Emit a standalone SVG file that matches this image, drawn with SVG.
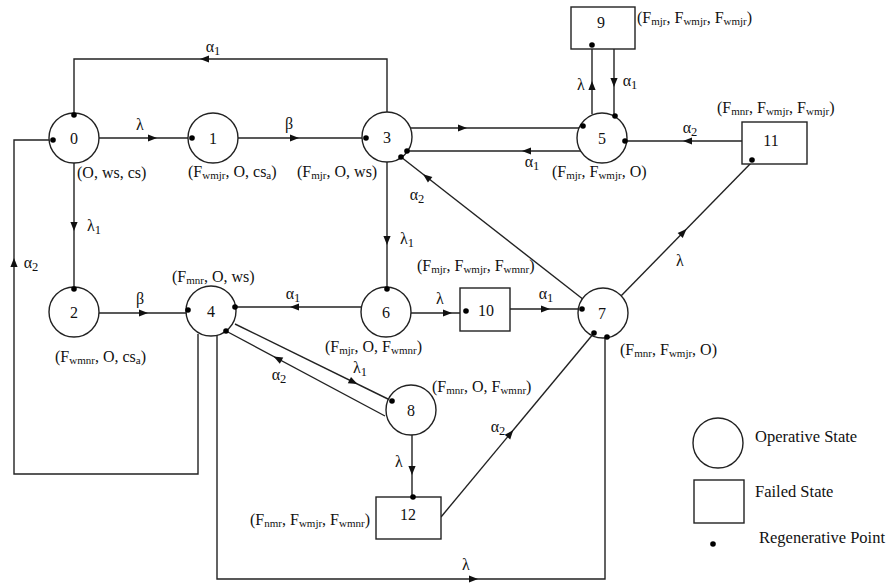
<svg xmlns="http://www.w3.org/2000/svg" xmlns:xlink="http://www.w3.org/1999/xlink" width="889" height="587" viewBox="0 0 889 587">
<style>
.nd{fill:#fff;stroke:#222;stroke-width:1.4}
.ln{fill:none;stroke:#222;stroke-width:1.4}
.ah{fill:#111}
.dt{fill:#000}
text{font-family:"Liberation Serif","Times New Roman",serif;fill:#111}
.num{font-size:16px;text-anchor:middle}
.lb{font-size:16px}
.sb{font-size:11px}
.gk{font-size:16px;text-anchor:middle}
.gs{font-size:12.5px}
.lg{font-size:16.5px}
</style>
<defs>
<path id="ah" class="ah" d="M5,0 L-4,-3.6 L-4,3.6 Z"/>
<circle id="dt" class="dt" r="2.8"/>
</defs>
<rect width="889" height="587" fill="#fff"/>

<g id="connectors">
<path class="ln" d="M99,138 H188"/>
<use href="#ah" transform="translate(152,138)"/>
<text class="gk" x="140" y="130">λ</text>

<path class="ln" d="M238,138 H362"/>
<use href="#ah" transform="translate(294,138)"/>
<text class="gk" x="289" y="129">β</text>

<path class="ln" d="M387,112 V59 H74 V113"/>
<use href="#ah" transform="translate(205,59) rotate(180)"/>
<text class="gk" x="213" y="52">α<tspan class="gs" dy="3">1</tspan></text>

<path class="ln" d="M74,163 V287"/>
<use href="#ah" transform="translate(74,226) rotate(90)"/>
<text class="gk" x="94" y="231">λ<tspan class="gs" dy="3">1</tspan></text>

<path class="ln" d="M99,313 H188"/>
<use href="#ah" transform="translate(143,313)"/>
<text class="gk" x="140" y="304">β</text>

<path class="ln" d="M198,334 V474 H14 V140 H53"/>
<use href="#ah" transform="translate(14,263) rotate(-90)"/>
<text class="gk" x="31" y="268">α<tspan class="gs" dy="3">2</tspan></text>

<path class="ln" d="M410,128 H581"/>
<use href="#ah" transform="translate(462,128)"/>

<path class="ln" d="M581,151 H408"/>
<use href="#ah" transform="translate(527,151) rotate(180)"/>
<text class="gk" x="532" y="167">α<tspan class="gs" dy="3">1</tspan></text>

<path class="ln" d="M592,114 V49"/>
<use href="#ah" transform="translate(592,86) rotate(-90)"/>
<text class="gk" x="581" y="90">λ</text>

<path class="ln" d="M614,49 V116"/>
<use href="#ah" transform="translate(614,82) rotate(90)"/>
<text class="gk" x="630" y="86">α<tspan class="gs" dy="3">1</tspan></text>

<path class="ln" d="M742,141 H627"/>
<use href="#ah" transform="translate(688,141) rotate(180)"/>
<text class="gk" x="690" y="133">α<tspan class="gs" dy="3">2</tspan></text>

<path class="ln" d="M620,297 L752,162"/>
<use href="#ah" transform="translate(683,232.6) rotate(-45.6)"/>
<text class="gk" x="680" y="266">λ</text>

<path class="ln" d="M584,300 L401,157"/>
<use href="#ah" transform="translate(427,177.3) rotate(-142)"/>
<text class="gk" x="417" y="200">α<tspan class="gs" dy="3">2</tspan></text>

<path class="ln" d="M387,162 V287"/>
<use href="#ah" transform="translate(387,240) rotate(90)"/>
<text class="gk" x="407" y="244">λ<tspan class="gs" dy="3">1</tspan></text>

<path class="ln" d="M362,307 H235"/>
<use href="#ah" transform="translate(295,307) rotate(180)"/>
<text class="gk" x="293" y="299">α<tspan class="gs" dy="3">1</tspan></text>

<path class="ln" d="M411,313 H460"/>
<use href="#ah" transform="translate(447,313)"/>
<text class="gk" x="440" y="304">λ</text>

<path class="ln" d="M510,309 H582"/>
<use href="#ah" transform="translate(545,309)"/>
<text class="gk" x="546" y="299">α<tspan class="gs" dy="3">1</tspan></text>

<path class="ln" d="M235,324 L392,401"/>
<use href="#ah" transform="translate(353,381.9) rotate(26.1)"/>
<text class="gk" x="360" y="373">λ<tspan class="gs" dy="3">1</tspan></text>

<path class="ln" d="M385,416 L226,331"/>
<use href="#ah" transform="translate(278,358.8) rotate(-151.9)"/>
<text class="gk" x="279" y="380">α<tspan class="gs" dy="3">2</tspan></text>

<path class="ln" d="M412,435 V497"/>
<use href="#ah" transform="translate(412,470) rotate(90)"/>
<text class="gk" x="399" y="467">λ</text>

<path class="ln" d="M441,517 L594,333"/>
<use href="#ah" transform="translate(510,434) rotate(-50.3)"/>
<text class="gk" x="498" y="432">α<tspan class="gs" dy="3">2</tspan></text>

<path class="ln" d="M217,335 V579 H605 V337"/>
<use href="#ah" transform="translate(473,579)"/>
<text class="gk" x="466" y="570">λ</text>
</g>

<g id="node0">
<circle class="nd" cx="74" cy="138" r="25"/>
<text class="num" x="74" y="144">0</text>
<use href="#dt" x="53" y="140"/><use href="#dt" x="74" y="115"/>
<text class="lb" x="77" y="178">(O, ws, cs)</text>
</g>
<g id="node1">
<circle class="nd" cx="213" cy="138" r="25"/>
<text class="num" x="213" y="144">1</text>
<use href="#dt" x="192" y="138"/>
<text class="lb" x="188" y="177">(F<tspan class="sb" dy="2">wmjr</tspan><tspan dy="-2">, O, cs</tspan><tspan class="sb" dy="2">a</tspan><tspan dy="-2">)</tspan></text>
</g>
<g id="node2">
<circle class="nd" cx="74" cy="312" r="25"/>
<text class="num" x="74" y="318">2</text>
<use href="#dt" x="74" y="289"/>
<text class="lb" x="55" y="362">(F<tspan class="sb" dy="2">wmnr</tspan><tspan dy="-2">, O, cs</tspan><tspan class="sb" dy="2">a</tspan><tspan dy="-2">)</tspan></text>
</g>
<g id="node3">
<circle class="nd" cx="387" cy="137" r="25"/>
<text class="num" x="387" y="143">3</text>
<use href="#dt" x="366" y="138"/><use href="#dt" x="407" y="151"/><use href="#dt" x="401" y="157"/>
<text class="lb" x="297" y="177">(F<tspan class="sb" dy="2">mjr</tspan><tspan dy="-2">, O, ws)</tspan></text>
</g>
<g id="node4">
<circle class="nd" cx="211" cy="311" r="25"/>
<text class="num" x="211" y="317">4</text>
<use href="#dt" x="188" y="310"/><use href="#dt" x="235" y="307"/><use href="#dt" x="226" y="331"/>
<text class="lb" x="172" y="282">(F<tspan class="sb" dy="2">mnr</tspan><tspan dy="-2">, O, ws)</tspan></text>
</g>
<g id="node5">
<circle class="nd" cx="602" cy="138" r="25"/>
<text class="num" x="602" y="144">5</text>
<use href="#dt" x="583" y="126"/><use href="#dt" x="615" y="116"/><use href="#dt" x="625" y="141"/>
<text class="lb" x="552" y="177">(F<tspan class="sb" dy="2">mjr</tspan><tspan dy="-2">, F</tspan><tspan class="sb" dy="2">wmjr</tspan><tspan dy="-2">, O)</tspan></text>
</g>
<g id="node6">
<circle class="nd" cx="386" cy="312" r="25"/>
<text class="num" x="386" y="318">6</text>
<use href="#dt" x="387" y="289"/>
<text class="lb" x="325" y="352">(F<tspan class="sb" dy="2">mjr</tspan><tspan dy="-2">, O, F</tspan><tspan class="sb" dy="2">wmnr</tspan><tspan dy="-2">)</tspan></text>
</g>
<g id="node7">
<circle class="nd" cx="603" cy="313" r="25"/>
<text class="num" x="602" y="319">7</text>
<use href="#dt" x="582" y="309"/><use href="#dt" x="594" y="333"/><use href="#dt" x="607" y="337"/>
<text class="lb" x="620" y="355">(F<tspan class="sb" dy="2">mnr</tspan><tspan dy="-2">, F</tspan><tspan class="sb" dy="2">wmjr</tspan><tspan dy="-2">, O)</tspan></text>
<text class="lb" x="417" y="271">(F<tspan class="sb" dy="2">mjr</tspan><tspan dy="-2">, F</tspan><tspan class="sb" dy="2">wmjr</tspan><tspan dy="-2">, F</tspan><tspan class="sb" dy="2">wmnr</tspan><tspan dy="-2">)</tspan></text>
</g>
<g id="node8">
<circle class="nd" cx="411" cy="410" r="25"/>
<text class="num" x="411" y="416">8</text>
<use href="#dt" x="392" y="401"/>
<text class="lb" x="432" y="392">(F<tspan class="sb" dy="2">mnr</tspan><tspan dy="-2">, O, F</tspan><tspan class="sb" dy="2">wmnr</tspan><tspan dy="-2">)</tspan></text>
</g>
<g id="node9">
<rect class="nd" x="571" y="7" width="64" height="42"/>
<text class="num" x="601" y="28">9</text>
<use href="#dt" x="592" y="45"/>
<text class="lb" x="637" y="23">(F<tspan class="sb" dy="2">mjr</tspan><tspan dy="-2">, F</tspan><tspan class="sb" dy="2">wmjr</tspan><tspan dy="-2">, F</tspan><tspan class="sb" dy="2">wmjr</tspan><tspan dy="-2">)</tspan></text>
</g>
<g id="node10">
<rect class="nd" x="460" y="288" width="50" height="43"/>
<text class="num" x="486" y="316">10</text>
<use href="#dt" x="466" y="311"/>
</g>
<g id="node11">
<rect class="nd" x="742" y="122" width="65" height="42"/>
<text class="num" x="771" y="146">11</text>
<use href="#dt" x="752" y="160"/>
<text class="lb" x="717" y="113">(F<tspan class="sb" dy="2">mnr</tspan><tspan dy="-2">, F</tspan><tspan class="sb" dy="2">wmjr</tspan><tspan dy="-2">, F</tspan><tspan class="sb" dy="2">wmjr</tspan><tspan dy="-2">)</tspan></text>
</g>
<g id="node12">
<rect class="nd" x="376" y="497" width="65" height="42"/>
<text class="num" x="408" y="520">12</text>
<use href="#dt" x="413" y="497"/>
<text class="lb" x="250" y="525">(F<tspan class="sb" dy="2">nmr</tspan><tspan dy="-2">, F</tspan><tspan class="sb" dy="2">wmjr</tspan><tspan dy="-2">, F</tspan><tspan class="sb" dy="2">wmnr</tspan><tspan dy="-2">)</tspan></text>
</g>

<g id="legend">
<circle class="nd" cx="718" cy="443" r="25"/>
<text class="lg" x="755" y="442">Operative State</text>
<rect class="nd" x="694" y="480" width="50" height="43"/>
<text class="lg" x="755" y="497">Failed State</text>
<use href="#dt" x="713" y="544"/>
<text class="lg" x="759" y="543">Regenerative Point</text>
</g>
</svg>
